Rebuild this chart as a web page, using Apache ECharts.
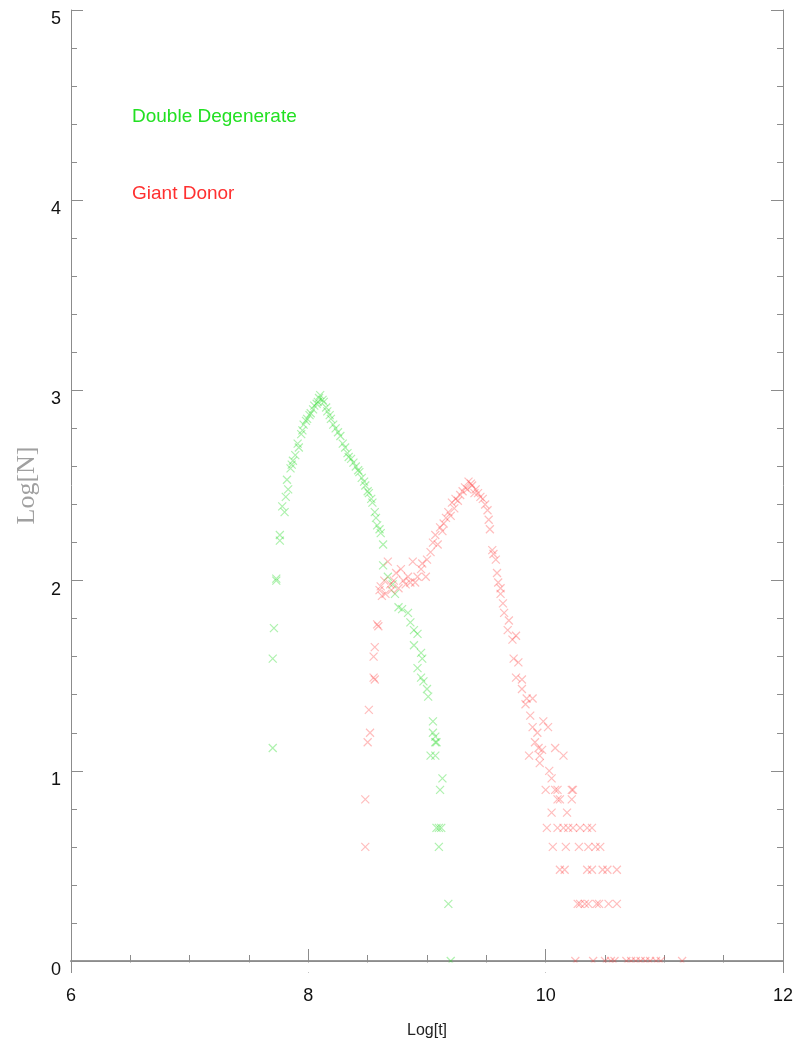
<!DOCTYPE html>
<html>
<head>
<meta charset="utf-8">
<script src="https://cdn.jsdelivr.net/npm/echarts@6/dist/echarts.min.js"></script>
<style>
  html, body { margin: 0; padding: 0; background: #fff; }
  #chart { width: 804px; height: 1054px; }
</style>
</head>
<body>
<div id="chart"></div>
<script>
// Double Degenerate population: log age vs log count
const ddLogT = [7.70, 7.70, 7.71, 7.73, 7.73, 7.76, 7.76, 7.78, 7.80, 7.81, 7.82, 7.83, 7.85, 7.86, 7.87, 7.89,
  7.91, 7.92, 7.94, 7.95, 7.96, 7.98, 7.99, 8.01, 8.02, 8.04, 8.05, 8.07, 8.08, 8.09, 8.10, 8.12, 8.13, 8.15,
  8.16, 8.18, 8.19, 8.21, 8.23, 8.25, 8.27, 8.29, 8.31, 8.33, 8.34, 8.36, 8.38, 8.40, 8.42, 8.43, 8.45, 8.47,
  8.48, 8.50, 8.51, 8.53, 8.54, 8.56, 8.57, 8.58, 8.60, 8.61, 8.63, 8.63, 8.67, 8.71, 8.73, 8.76, 8.79, 8.84,
  8.86, 8.89, 8.92, 8.89, 8.95, 8.96, 8.92, 8.95, 8.97, 9.00, 9.01, 9.05, 9.05, 9.07, 9.07, 9.08, 9.03, 9.07,
  9.13, 9.11, 9.08, 9.10, 9.12, 9.10, 9.18, 9.20];
const ddLogN = [1.12, 1.59, 1.75, 2.01, 2.00, 2.21, 2.24, 2.39, 2.36, 2.44, 2.53, 2.48, 2.59, 2.61, 2.63, 2.66,
  2.72, 2.70, 2.77, 2.79, 2.82, 2.84, 2.85, 2.87, 2.88, 2.90, 2.92, 2.93, 2.94, 2.96, 2.975, 2.95, 2.94, 2.91,
  2.89, 2.87, 2.85, 2.82, 2.80, 2.78, 2.76, 2.72, 2.70, 2.67, 2.65, 2.64, 2.62, 2.60, 2.58, 2.57, 2.54, 2.52,
  2.50, 2.47, 2.46, 2.43, 2.41, 2.36, 2.33, 2.29, 2.27, 2.25, 2.19, 2.08, 2.02, 1.98, 1.93, 1.86, 1.85, 1.83,
  1.78, 1.74, 1.72, 1.66, 1.62, 1.59, 1.54, 1.49, 1.47, 1.43, 1.39, 1.26, 1.20, 1.18, 1.15, 1.15, 1.08, 1.08,
  0.96, 0.90, 0.70, 0.70, 0.70, 0.60, 0.30, 0.00];

// Giant Donor population: log age vs log count
const gdLogT = [8.48, 8.48, 8.50, 8.52, 8.51, 8.55, 8.56, 8.55, 8.56, 8.58, 8.59, 8.60, 8.61, 8.62, 8.64, 8.65,
  8.67, 8.69, 8.70, 8.72, 8.74, 8.76, 8.78, 8.80, 8.82, 8.84, 8.86, 8.88, 8.90, 8.92, 8.95, 8.96, 8.99, 9.00,
  9.03, 9.05, 9.07, 9.09, 9.11, 9.13, 9.14, 9.16, 9.18, 9.20, 9.21, 9.23, 9.24, 9.26, 9.28, 9.30, 9.32, 9.34,
  9.35, 9.37, 9.38, 9.40, 9.41, 9.43, 9.45, 9.47, 9.49, 9.51, 9.52, 9.53, 9.55, 9.56, 9.58, 9.59, 9.60, 9.62,
  9.62, 9.64, 9.65, 9.68, 9.69, 9.72, 9.73, 9.75, 9.75, 9.77, 9.80, 9.80, 9.83, 9.84, 9.86, 9.87, 9.89, 9.89,
  9.91, 9.93, 9.94, 9.95, 9.95, 9.97, 9.98, 10.00, 10.01, 10.02, 10.03, 10.05, 10.05, 10.06, 10.08, 10.08,
  10.10, 10.10, 10.10, 10.12, 10.12, 10.15, 10.15, 10.16, 10.17, 10.18, 10.19, 10.22, 10.22, 10.23, 10.23,
  10.25, 10.27, 10.28, 10.29, 10.29, 10.33, 10.35, 10.35, 10.36, 10.36, 10.39, 10.39, 10.40, 10.42, 10.43,
  10.45, 10.46, 10.48, 10.50, 10.52, 10.53, 10.55, 10.58, 10.60, 10.60, 10.68, 10.72, 10.76, 10.80, 10.84,
  10.88, 10.93, 10.97, 11.15];
const gdLogN = [0.60, 0.85, 1.15, 1.20, 1.32, 1.49, 1.48, 1.60, 1.65, 1.77, 1.76, 1.95, 1.97, 1.92, 2.00, 1.93,
  2.10, 1.98, 1.95, 2.00, 2.04, 1.96, 2.06, 2.00, 1.98, 2.02, 1.99, 2.10, 1.99, 2.02, 2.06, 2.09, 2.02, 2.11,
  2.15, 2.20, 2.24, 2.19, 2.28, 2.26, 2.30, 2.33, 2.36, 2.34, 2.41, 2.38, 2.43, 2.42, 2.45, 2.47, 2.49, 2.48,
  2.52, 2.51, 2.50, 2.46, 2.48, 2.46, 2.44, 2.43, 2.40, 2.37, 2.32, 2.27, 2.16, 2.14, 2.11, 2.04, 1.99, 1.96,
  1.93, 1.88, 1.83, 1.74, 1.79, 1.69, 1.59, 1.71, 1.49, 1.57, 1.48, 1.43, 1.35, 1.38, 1.08, 1.29, 1.38, 1.23,
  1.15, 1.20, 1.12, 1.08, 1.04, 1.11, 1.26, 0.90, 0.70, 1.23, 1.00, 0.96, 0.78, 0.60, 1.12, 0.90,
  0.90, 0.85, 0.70, 0.85, 0.48, 1.08, 0.70, 0.48, 0.60, 0.78, 0.70, 0.90, 0.85, 0.90, 0.70,
  0.00, 0.30, 0.60, 0.70, 0.30, 0.30, 0.70, 0.48, 0.60, 0.30, 0.70, 0.48, 0.00, 0.60, 0.30,
  0.30, 0.60, 0.48, 0.00, 0.48, 0.30, 0.00, 0.00, 0.48, 0.30, 0.00, 0.00, 0.00, 0.00, 0.00,
  0.00, 0.00, 0.00, 0.00];

const xTickLabels = ['6', '8', '10', '12'];
const yTickLabels = ['0', '1', '2', '3', '4', '5'];

const pairs = (xs, ys) => xs.map((x, i) => [x, ys[i]]);

const CROSS = 'path://M0,0L10,10M10,0L0,10';
const AXIS_GREY = '#8c8c8c';
const FONT = '"Liberation Sans", Arial, sans-serif';

function frameAxis(extra) {
  return Object.assign({
    type: 'value',
    axisLine: { show: true, lineStyle: { color: AXIS_GREY, width: 1 } },
    axisTick: { show: true, inside: true, length: 12, lineStyle: { color: AXIS_GREY } },
    minorTick: { show: true, length: 6, lineStyle: { color: AXIS_GREY } },
    splitLine: { show: false },
    axisLabel: { show: false }
  }, extra);
}

const chart = echarts.init(document.getElementById('chart'), null, { renderer: 'canvas' });

chart.setOption({
  animation: false,
  backgroundColor: '#ffffff',
  grid: { left: 71, right: 21, top: 10, bottom: 93, containLabel: false },
  xAxis: [
    frameAxis({
      min: 6, max: 12, interval: 2, position: 'bottom',
      minorTick: { show: true, splitNumber: 4, length: 6, lineStyle: { color: AXIS_GREY } },
      axisLine: { show: true, lineStyle: { color: '#999', width: 2 } },
      axisLabel: {
        show: true, margin: 26, color: '#111', fontSize: 18, fontFamily: FONT,
        formatter: v => xTickLabels[(v - 6) / 2] ?? ''
      },
      name: 'Log[t]', nameLocation: 'middle', nameGap: 62,
      nameTextStyle: { color: '#222', fontSize: 16, fontFamily: FONT }
    }),
    frameAxis({
      min: 6, max: 12, interval: 2, position: 'top',
      minorTick: { show: true, splitNumber: 4, length: 6, lineStyle: { color: AXIS_GREY } }
    })
  ],
  yAxis: [
    frameAxis({
      min: 0, max: 5, interval: 1, position: 'left',
      minorTick: { show: true, splitNumber: 5, length: 6, lineStyle: { color: AXIS_GREY } },
      axisLabel: {
        show: true, margin: 10, color: '#111', fontSize: 18, fontFamily: FONT,
        verticalAlign: 'top', lineHeight: 18,
        formatter: v => yTickLabels[v] ?? ''
      },
      name: 'Log[N]', nameLocation: 'middle', nameGap: 27, nameRotate: 90,
      nameTextStyle: { color: '#a0a0a0', fontSize: 26, fontFamily: '"Liberation Serif", "DejaVu Serif", serif' }
    }),
    frameAxis({
      min: 0, max: 5, interval: 1, position: 'right',
      minorTick: { show: true, splitNumber: 5, length: 6, lineStyle: { color: AXIS_GREY } }
    })
  ],
  series: [
    {
      name: 'Double Degenerate', type: 'scatter', xAxisIndex: 0, yAxisIndex: 0,
      data: pairs(ddLogT, ddLogN),
      symbol: CROSS, symbolSize: 8,
      itemStyle: { color: 'rgba(0,0,0,0)', borderColor: 'rgba(30,215,30,0.45)', borderWidth: 1.2 },
      emphasis: { disabled: true }, z: 3
    },
    {
      name: 'Giant Donor', type: 'scatter', xAxisIndex: 0, yAxisIndex: 0,
      data: pairs(gdLogT, gdLogN),
      symbol: CROSS, symbolSize: 8,
      itemStyle: { color: 'rgba(0,0,0,0)', borderColor: 'rgba(255,50,50,0.4)', borderWidth: 1.2 },
      emphasis: { disabled: true }, z: 3
    }
  ],
  graphic: [
    // hide the half of each marker that falls below the baseline
    { type: 'rect', left: 72, top: 962.5, shape: { width: 710, height: 10 }, style: { fill: '#fff' }, z: 10 },
    { type: 'text', left: 132, top: 107, style: { text: 'Double Degenerate', fill: '#22e022', font: '19px ' + FONT }, z: 10 },
    { type: 'text', left: 132, top: 184, style: { text: 'Giant Donor', fill: '#ff3030', font: '19px ' + FONT }, z: 10 }
  ]
});
</script>
</body>
</html>
